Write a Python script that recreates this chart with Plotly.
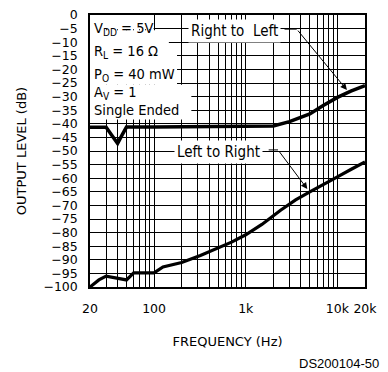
import numpy as np
import plotly.graph_objects as go

# --- data ---
freq_rl = [20, 25, 30, 35, 40, 45, 50, 100, 500, 1000, 2000, 3000, 5000, 7000, 10000, 14000, 20000]
level_rl = [-41.3, -41.3, -41.3, -44.5, -47.2, -44, -41.2, -41.2, -41.1, -41.0, -40.8, -39.2, -36.4, -33.3, -30.3, -28.0, -26.0]

freq_lr = [20, 25, 30, 40, 50, 60, 75, 100, 125, 200, 320, 450, 700, 1000, 1500, 2400, 3500, 5000, 7000, 10000, 14000, 20000]
level_lr = [-100.0, -97.4, -96.0, -96.8, -97.4, -94.8, -94.8, -94.8, -92.6, -91.0, -88.4, -86.4, -83.5, -80.8, -77.0, -71.8, -68.0, -65.0, -62.2, -59.5, -56.8, -54.0]

grid_freqs = [20, 30, 40, 50, 60, 70, 80, 90,
              100, 200, 300, 400, 500, 600, 700, 800, 900,
              1000, 2000, 3000, 4000, 5000, 6000, 7000, 8000, 9000,
              10000, 20000]
labelled = {20: "20", 100: "100", 1000: "1k", 10000: "10k", 20000: "20k"}
tick_text = [labelled.get(f, "") for f in grid_freqs]

cond_lines = ["V<sub>DD</sub> = 5V", "R<sub>L</sub> = 16 Ω", "P<sub>O</sub> = 40 mW",
              "A<sub>V</sub> = 1", "Single Ended"]
cond_y = [-5.2, -13.6, -21.9, -28.5, -34.9]

FONT = "DejaVu Sans"
NARROW = "DejaVu Sans Condensed, DejaVu Sans"

fig = go.Figure()

fig.add_trace(go.Scatter(x=freq_rl, y=level_rl, mode="lines",
                         line=dict(color="black", width=3.5), showlegend=False))
fig.add_trace(go.Scatter(x=freq_lr, y=level_lr, mode="lines",
                         line=dict(color="black", width=3.2), showlegend=False))

# white masks behind the condition text (hide grid like the original)
masks = [
    (20, 99, -5.2, 0),
    (20, 145, -12.5, -5.6),
    (20, 178, -25.6, -12.5),
    (20, 255, -38.4, -25.6),
]
for x0, x1, y0, y1 in masks:
    fig.add_shape(type="rect", x0=x0, x1=x1, y0=y0, y1=y1, xref="x", yref="y",
                  fillcolor="white", line_width=0, layer="between")

for txt, yv in zip(cond_lines, cond_y):
    fig.add_annotation(text=txt, x=0.008, xref="paper", y=yv, yref="y",
                       xanchor="left", yanchor="middle", showarrow=False,
                       font=dict(family=NARROW, size=14.5, color="black"))

# curve labels with leaders
fig.add_annotation(text="Right to\u00a0 Left", x=np.log10(745), y=-6.0, xref="x", yref="y",
                   showarrow=False, bgcolor="white", borderpad=2,
                   font=dict(family=NARROW, size=15, color="black"))
fig.add_annotation(text="Left to Right", x=np.log10(500), y=-50.5, xref="x", yref="y",
                   showarrow=False, bgcolor="white", borderpad=2,
                   font=dict(family=NARROW, size=15, color="black"))

fig.add_trace(go.Scatter(x=[2650, 3600], y=[-5.2, -5.2], mode="lines",
                         line=dict(color="black", width=1), showlegend=False))
fig.add_trace(go.Scatter(x=[1780, 2250], y=[-49.6, -49.6], mode="lines",
                         line=dict(color="black", width=1), showlegend=False))
fig.add_annotation(x=np.log10(12700), y=-27.6, ax=np.log10(3600), ay=-5.2,
                   xref="x", yref="y", axref="x", ayref="y", text="",
                   showarrow=True, arrowhead=2, arrowsize=1.3, arrowwidth=1, arrowcolor="black")
fig.add_annotation(x=np.log10(4700), y=-64.0, ax=np.log10(2250), ay=-49.6,
                   xref="x", yref="y", axref="x", ayref="y", text="",
                   showarrow=True, arrowhead=2, arrowsize=1.3, arrowwidth=1, arrowcolor="black")

fig.add_annotation(text="DS200104-50", x=1.058, y=-0.283, xref="paper", yref="paper",
                   xanchor="right", yanchor="middle", showarrow=False,
                   font=dict(family="Liberation Sans", size=13, color="black"))

fig.update_xaxes(type="log", range=[np.log10(20), np.log10(20000)],
                 tickvals=grid_freqs, ticktext=tick_text, automargin=False,
                 showgrid=True, gridcolor="black", gridwidth=1,
                 showline=True, linecolor="black", linewidth=1.5, mirror=True,
                 ticks="", ticklabelstandoff=9,
                 tickfont=dict(family=FONT, size=12.5, color="black"),
                 title=dict(text="FREQUENCY (Hz)", standoff=22,
                            font=dict(family=FONT, size=13, color="black")),
                 zeroline=False)
fig.update_yaxes(range=[-100, 0], dtick=5, tick0=0, automargin=False,
                 showgrid=True, gridcolor="black", gridwidth=1,
                 showline=True, linecolor="black", linewidth=1.5, mirror=True,
                 ticks="", ticklabelstandoff=8, ticklabeloverflow="allow",
                 tickfont=dict(family=FONT, size=12.5, color="black"),
                 title=dict(text="OUTPUT LEVEL (dB)", standoff=14,
                            font=dict(family=FONT, size=13, color="black")),
                 zeroline=False)

# page body has an 8px margin, so the figure is sized/offset to compensate
fig.update_layout(width=380, height=364, margin=dict(l=82, r=23, t=7, b=85),
                  plot_bgcolor="white", paper_bgcolor="white", showlegend=False)

fig.write_html("out.html")
